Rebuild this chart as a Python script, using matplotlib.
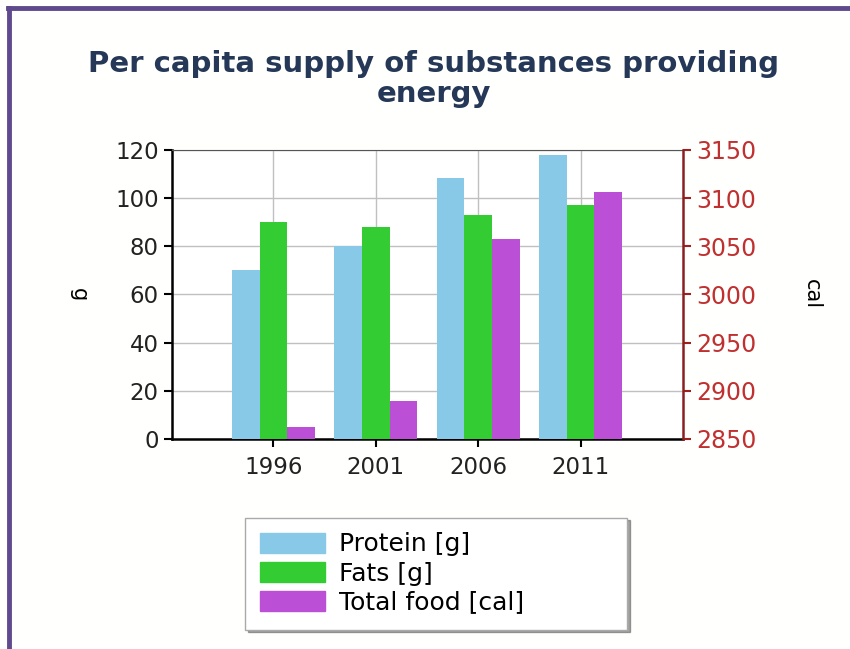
import numpy as np
import matplotlib
matplotlib.use('Agg')
import matplotlib.pyplot as plt
from matplotlib.lines import Line2D
from matplotlib.patches import Patch

plt.rcParams['font.family'] = ['DejaVu Sans']

years = ['1996', '2001', '2006', '2011']
protein = [70, 80, 108.5, 118]
fats = [90, 88, 93, 97]
total_food = [2862, 2889, 3058, 3106]

fig = plt.figure(figsize=(8.5, 6.49), dpi=100)
fig.patch.set_facecolor('#fffffd')

# purple frame at left and top
fig.add_artist(Line2D([0.011, 0.011], [0, 0.987], color='#5e4a8c', lw=3.5, transform=fig.transFigure))
fig.add_artist(Line2D([0.009, 1], [0.987, 0.987], color='#5e4a8c', lw=3.5, transform=fig.transFigure))

ax1 = fig.add_axes([0.2024, 0.3236, 0.601, 0.4453])
ax1.set_facecolor('white')
x = np.arange(len(years))
w = 0.27
ax1.bar(x - w, protein, w, color='#87c9e6', zorder=3)
ax1.bar(x, fats, w, color='#33cc33', zorder=3)
ax1.set_ylim(0, 120)
ax1.set_xlim(-0.99, 4.0)
ax1.set_yticks(range(0, 121, 20))
ax1.set_xticks(x)
ax1.set_xticklabels(years)
ax1.grid(True, color='#c0c0c0', lw=1, zorder=0)
ax1.tick_params(axis='both', labelsize=16.5, colors='black', labelcolor='#222222', length=6, width=1.5)
ax1.tick_params(axis='x', pad=6)
ax1.spines['left'].set_linewidth(1.8)
ax1.spines['bottom'].set_linewidth(1.8)
ax1.spines['top'].set_color('#555555')
ax1.spines['right'].set_visible(False)
ax1.set_ylabel('g', fontsize=15, rotation=270, labelpad=26, va='center')

ax2 = ax1.twinx()
ax2.bar(x + w, total_food, w, color='#bb4fd6', zorder=3)
ax2.set_ylim(2850, 3150)
ax2.set_yticks(range(2850, 3151, 50))
ax2.tick_params(axis='y', labelsize=17, colors='#a02020', labelcolor='#c03030', length=6, width=1.5)
ax2.spines['right'].set_color('#8b2020')
ax2.spines['right'].set_linewidth(1.8)
ax2.spines['left'].set_visible(False)
ax2.spines['top'].set_visible(False)
ax2.spines['bottom'].set_visible(False)
ax2.set_ylabel('cal', fontsize=15, rotation=270, labelpad=40, va='center')

fig.text(0.51, 0.878, 'Per capita supply of substances providing\nenergy', ha='center', va='center',
         fontsize=21, fontweight='bold', color='#253858', linespacing=1.12)

handles = [Patch(color='#87c9e6', label='Protein [g]'),
           Patch(color='#33cc33', label='Fats [g]'),
           Patch(color='#bb4fd6', label='Total food [cal]')]
leg = fig.legend(handles=handles, loc='center', fontsize=18, mode='expand',
                 frameon=True, fancybox=False, shadow=True, handlelength=2.6, handleheight=0.85,
                 borderpad=0.6, labelspacing=0.2, handletextpad=0.55, borderaxespad=0,
                 bbox_to_anchor=(245 / 850, 14 / 649, 382 / 850, 123 / 649),
                 bbox_transform=fig.transFigure)
leg.get_frame().set_edgecolor('#aaaaaa')
leg.get_frame().set_linewidth(1.0)

fig.savefig('out.png', dpi=100, facecolor=fig.get_facecolor())
